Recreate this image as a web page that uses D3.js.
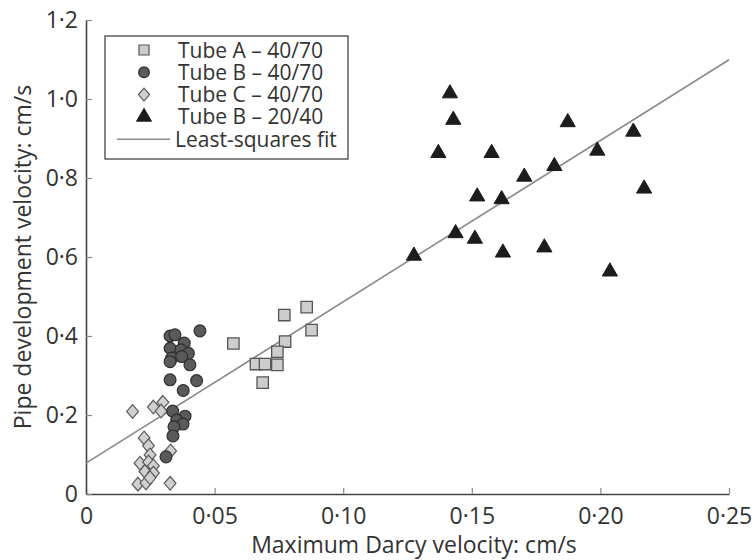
<!DOCTYPE html>
<html><head><meta charset="utf-8">
<script src="https://cdn.jsdelivr.net/npm/d3@7"></script>
<style>body{margin:0;background:#fff}svg{display:block}text{font-family:"Open Sans",sans-serif;fill:#333}</style>
</head><body><svg id="c" width="754" height="560"></svg>
<script>
const xTicks=[0,0.05,0.10,0.15,0.20,0.25];
const xTickLabels=["0","0·05","0·10","0·15","0·20","0·25"];
const yTicks=[0,0.2,0.4,0.6,0.8,1.0,1.2];
const yTickLabels=["0","0·2","0·4","0·6","0·8","1·0","1·2"];
const xTitle="Maximum Darcy velocity: cm/s";
const yTitle="Pipe development velocity: cm/s";
const seriesNames=["Tube A – 40/70","Tube B – 40/70","Tube C – 40/70","Tube B – 20/40","Least-squares fit"];
const tubeA_x=[0.0573,0.0771,0.0858,0.0877,0.0774,0.0744,0.0661,0.0696,0.0744,0.0687];
const tubeA_y=[0.381,0.453,0.473,0.415,0.386,0.360,0.329,0.329,0.327,0.282];
const tubeB_x=[0.0443,0.0327,0.0346,0.0382,0.0327,0.0369,0.0398,0.0333,0.0372,0.0327,0.0404,0.0327,0.0430,0.0378,0.0337,0.0385,0.0353,0.0377,0.0342,0.0338,0.0311];
const tubeB_y=[0.413,0.400,0.403,0.382,0.369,0.365,0.356,0.344,0.348,0.335,0.327,0.289,0.287,0.262,0.210,0.197,0.187,0.177,0.170,0.147,0.094];
const tubeC_x=[0.0181,0.0262,0.0299,0.0292,0.0226,0.0243,0.0249,0.0329,0.0210,0.0243,0.0262,0.0229,0.0262,0.0202,0.0233,0.0249,0.0327];
const tubeC_y=[0.209,0.220,0.232,0.210,0.142,0.122,0.099,0.109,0.078,0.081,0.071,0.057,0.053,0.025,0.028,0.041,0.027];
const tubeB2_x=[0.1415,0.1428,0.1370,0.1577,0.1873,0.2128,0.1988,0.1821,0.1704,0.2170,0.1521,0.1616,0.1437,0.1512,0.1275,0.1621,0.1782,0.2037];
const tubeB2_y=[1.014,0.947,0.863,0.863,0.941,0.917,0.869,0.830,0.803,0.773,0.753,0.746,0.660,0.646,0.603,0.611,0.624,0.563];
const fitIntercept=0.078, fitSlope=4.085;
const fitX=[0,0.25];

const svg=d3.select("#c");
const x=d3.scaleLinear().domain([0,0.25]).range([86,729]);
const y=d3.scaleLinear().domain([0,1.2]).range([494,20]);

const xAxis=d3.axisBottom(x).tickValues(xTicks).tickFormat((d,i)=>xTickLabels[i]).tickSizeInner(-6).tickSizeOuter(0).tickPadding(14);
const yAxis=d3.axisLeft(y).tickValues(yTicks).tickFormat((d,i)=>yTickLabels[i]).tickSizeInner(-6).tickSizeOuter(0).tickPadding(8);
const gx=svg.append("g").attr("transform","translate(0,494)").call(xAxis);
const gy=svg.append("g").attr("transform","translate(86,0)").call(yAxis);
[gx,gy].forEach(g=>{
  g.select(".domain").attr("stroke","#444").attr("stroke-width",1.6);
  g.selectAll(".tick line").attr("stroke","#888").attr("stroke-width",1.2);
  g.selectAll(".tick text").attr("font-size",23).attr("fill","#333").style("font-family","'Open Sans',sans-serif");
});
gx.selectAll(".tick text").attr("dy","0.71em");

svg.append("text").attr("x",414).attr("y",553).attr("text-anchor","middle").attr("font-size",23).text(xTitle);
svg.append("text").attr("transform","translate(31,257) rotate(-90)").attr("text-anchor","middle").attr("font-size",23).text(yTitle);

svg.append("line").attr("x1",x(fitX[0])).attr("y1",y(fitIntercept+fitSlope*fitX[0]))
  .attr("x2",x(fitX[1])).attr("y2",y(fitIntercept+fitSlope*fitX[1]))
  .attr("stroke","#8a8a8a").attr("stroke-width",1.6);

const diamondType={draw(ctx,size){const w=Math.sqrt(size)*0.62,h=Math.sqrt(size)*0.72;ctx.moveTo(0,-h);ctx.lineTo(w,0);ctx.lineTo(0,h);ctx.lineTo(-w,0);ctx.closePath();}};
const sq=d3.symbol().type(d3.symbolSquare).size(130);
const ci=d3.symbol().type(d3.symbolCircle).size(110);
const di=d3.symbol().type(diamondType).size(90);
const tr=d3.symbol().type(d3.symbolTriangle).size(100);

function plot(xs,ys,sym,fill,stroke,sw){
  svg.append("g").selectAll("path").data(xs.map((v,i)=>[v,ys[i]])).join("path")
   .attr("d",sym).attr("transform",d=>`translate(${x(d[0])},${y(d[1])})`)
   .attr("fill",fill).attr("stroke",stroke).attr("stroke-width",sw);
}
plot(tubeC_x,tubeC_y,di,"#d0d0d0","#5a5a5a",1.2);
plot(tubeB_x,tubeB_y,ci,"#5a5a5a","#2e2e2e",1.2);
plot(tubeA_x,tubeA_y,sq,"#cdcdcd","#555",1.3);
plot(tubeB2_x,tubeB2_y,tr,"#1c1c1c","#1c1c1c",1);

const lg=svg.append("g");
lg.append("rect").attr("x",105).attr("y",36).attr("width",243).attr("height",123).attr("fill","#fff").attr("stroke","#444").attr("stroke-width",1.3);
const lsq=d3.symbol().type(d3.symbolSquare).size(100);
const lci=d3.symbol().type(d3.symbolCircle).size(90);
const ldi=d3.symbol().type(diamondType).size(80);
const ltr=d3.symbol().type(d3.symbolTriangle).size(90);
const syms=[[lsq,"#cdcdcd","#555"],[lci,"#5a5a5a","#2e2e2e"],[ldi,"#d0d0d0","#5a5a5a"],[ltr,"#1c1c1c","#1c1c1c"]];
seriesNames.forEach((n,i)=>{
  const cy=50+i*22.3;
  if(i<4){
    lg.append("path").attr("d",syms[i][0]).attr("transform",`translate(144,${cy})`).attr("fill",syms[i][1]).attr("stroke",syms[i][2]).attr("stroke-width",1.2);
  } else {
    lg.append("line").attr("x1",117).attr("x2",170).attr("y1",cy).attr("y2",cy).attr("stroke","#8a8a8a").attr("stroke-width",1.6);
  }
  lg.append("text").attr("x",i<4?178:175).attr("y",cy).attr("dy","0.36em").attr("font-size",21).text(n);
});
</script></body></html>
